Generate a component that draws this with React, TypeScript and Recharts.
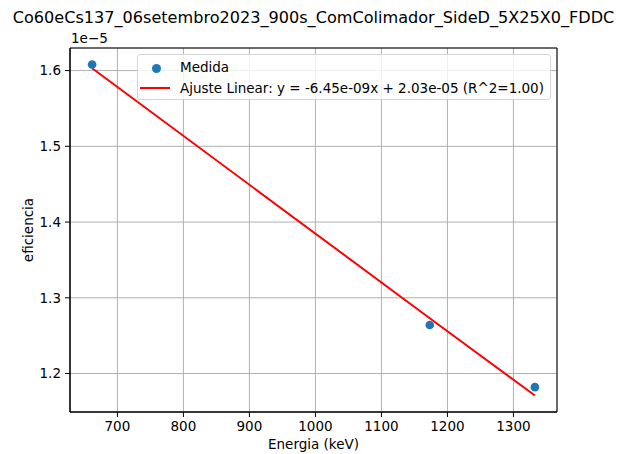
import {
  CartesianGrid,
  ComposedChart,
  Line,
  ReferenceArea,
  Scatter,
  XAxis,
  YAxis,
} from 'recharts';

const titulo = 'Co60eCs137_06setembro2023_900s_ComColimador_SideD_5X25X0_FDDC';

// energia dos picos (keV): Cs137, Co60, Co60
const energia = [661.7, 1173.2, 1332.5];
const medida = [1.608e-5, 1.264e-5, 1.182e-5];
const ajuste = [1.603e-5, 1.273e-5, 1.171e-5];

const xTicks = [700, 800, 900, 1000, 1100, 1200, 1300];
const yTicks = [1.2e-5, 1.3e-5, 1.4e-5, 1.5e-5, 1.6e-5];
const xDomain = [628.2, 1366.0];
const yDomain = [1.1492e-5, 1.6298e-5];

const legendaAjuste = 'Ajuste Linear: y = -6.45e-09x + 2.03e-05 (R^2=1.00)';

const data = energia.map((x, i) => ({
  x,
  medida: medida[i],
  ajuste: ajuste[i],
}));

const font = '"DejaVu Sans", sans-serif';
const fs = 13.5;
const tick = { fill: '#000', fontSize: fs, fontFamily: font };

export default function App() {
  return (
    <div
      style={{
        position: 'absolute',
        left: 0,
        top: 0,
        width: 619,
        height: 454,
        fontFamily: font,
        background: '#fff',
      }}
    >
      <ComposedChart
        width={619}
        height={454}
        data={data}
        margin={{ top: 48, right: 62, bottom: 12, left: 10 }}
      >
        <CartesianGrid stroke='#b0b0b0' strokeWidth={1} />
        <XAxis
          dataKey='x'
          type='number'
          domain={xDomain}
          ticks={xTicks}
          allowDataOverflow
          height={30}
          tickSize={5}
          tickMargin={4}
          tick={tick}
          stroke='#000'
        />
        <YAxis
          type='number'
          domain={yDomain}
          ticks={yTicks}
          allowDataOverflow
          width={60}
          tickSize={5}
          tickMargin={4}
          tick={tick}
          stroke='#000'
          tickFormatter={(v: number) => (v * 1e5).toFixed(1)}
        />
        <ReferenceArea
          x1={xDomain[0]}
          x2={xDomain[1]}
          y1={yDomain[0]}
          y2={yDomain[1]}
          fill='none'
          stroke='#000'
          strokeWidth={1}
        />
        <Line
          dataKey='ajuste'
          type='linear'
          stroke='#ff0000'
          strokeWidth={2}
          dot={false}
          isAnimationActive={false}
        />
        <Scatter
          dataKey='medida'
          fill='#1f77b4'
          shape={(p: any) => <circle cx={p.cx} cy={p.cy} r={4.3} fill='#1f77b4' />}
          isAnimationActive={false}
        />
      </ComposedChart>

      <div
        style={{
          position: 'absolute',
          left: 0,
          width: 627,
          top: 8,
          textAlign: 'center',
          fontSize: 16.1,
          whiteSpace: 'nowrap',
          color: '#000',
        }}
      >
        {titulo}
      </div>
      <div style={{ position: 'absolute', left: 71, top: 30, fontSize: fs }}>
        1e−5
      </div>
      <div
        style={{
          position: 'absolute',
          left: 0,
          width: 627,
          top: 436,
          textAlign: 'center',
          fontSize: fs,
        }}
      >
        Energia (keV)
      </div>
      <div
        style={{
          position: 'absolute',
          left: 28,
          top: 230,
          fontSize: fs,
          transform: 'translate(-50%, -50%) rotate(-90deg)',
          whiteSpace: 'nowrap',
        }}
      >
        eficiencia
      </div>

      <div
        style={{
          position: 'absolute',
          left: 137,
          top: 54,
          width: 414,
          height: 46,
          boxSizing: 'border-box',
          border: '1px solid #d6d6d6',
          borderRadius: 3,
          background: 'rgba(255,255,255,0.8)',
          fontSize: fs,
        }}
      >
        <div style={{ position: 'absolute', left: 14, top: 8.5, width: 9, height: 9, borderRadius: '50%', background: '#1f77b4' }} />
        <div style={{ position: 'absolute', left: 42, top: 4, lineHeight: '16px' }}>Medida</div>
        <div style={{ position: 'absolute', left: 2, top: 32, width: 30, height: 2, background: '#ff0000' }} />
        <div style={{ position: 'absolute', left: 42, top: 25, lineHeight: '16px', whiteSpace: 'nowrap' }}>
          {legendaAjuste}
        </div>
      </div>
    </div>
  );
}
